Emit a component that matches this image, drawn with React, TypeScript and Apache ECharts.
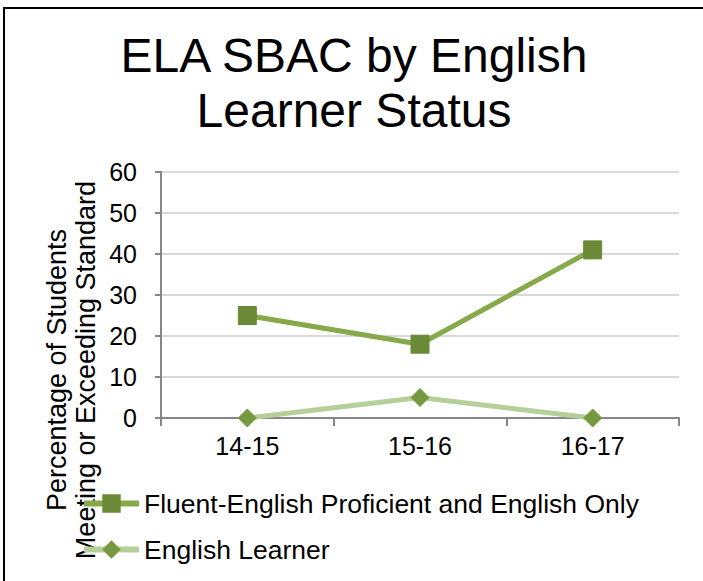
import React, { useEffect, useRef } from "react";
import * as echarts from "echarts";

const categories = ["14-15", "15-16", "16-17"];
const fluentValues = [25, 18, 41];
const learnerValues = [0, 5, 0];
const seriesNames = ["Fluent-English Proficient and English Only", "English Learner"];
const titleLines = ["ELA SBAC by English", "Learner Status"];
const axisTitleLines = ["Percentage of Students", "Meeting or Exceeding Standard"];

const FONT = "'Liberation Sans', Arial, sans-serif";

export default function App() {
  const ref = useRef<HTMLDivElement>(null);
  useEffect(() => {
    if (!ref.current) return;
    const chart = echarts.init(ref.current, null, { renderer: "svg" });
    chart.setOption({
      animation: false,
      backgroundColor: "#ffffff",
      textStyle: { fontFamily: FONT },
      grid: { left: 161, right: 24, top: 172, bottom: 163, containLabel: false },
      graphic: [
        {
          type: "rect",
          shape: { x: 4, y: 8, width: 720, height: 600 },
          style: { fill: "none", stroke: "#000000", lineWidth: 2 },
          silent: true,
        },
        {
          type: "text",
          x: 354,
          y: 83,
          style: {
            text: titleLines.join("\n"),
            font: `48px ${FONT}`,
            lineHeight: 55,
            fill: "#000000",
            align: "center",
            verticalAlign: "middle",
          },
        },
        {
          type: "text",
          x: 71,
          y: 370,
          rotation: Math.PI / 2,
          style: {
            text: axisTitleLines.join("\n"),
            font: `27px ${FONT}`,
            lineHeight: 29,
            fill: "#000000",
            align: "center",
            verticalAlign: "middle",
          },
        },
      ],
      legend: {
        orient: "vertical",
        left: 81,
        top: 490,
        padding: 0,
        itemWidth: 55,
        itemHeight: 23,
        itemGap: 19,
        lineStyle: { width: 6 },
        textStyle: { fontSize: 26.5, color: "#000000", fontFamily: FONT },
        data: seriesNames,
      },
      xAxis: {
        type: "category",
        data: categories,
        boundaryGap: true,
        axisLine: { lineStyle: { color: "#868686", width: 2 } },
        axisTick: { show: true, length: 8, lineStyle: { color: "#868686", width: 2 } },
        axisLabel: { fontSize: 25, color: "#000000", margin: 15, fontFamily: FONT },
        splitLine: { show: false },
      },
      yAxis: {
        type: "value",
        min: 0,
        max: 60,
        interval: 10,
        axisLine: { show: true, lineStyle: { color: "#868686", width: 2 } },
        axisTick: { show: true, length: 6, lineStyle: { color: "#868686", width: 2 } },
        axisLabel: { fontSize: 25, color: "#000000", margin: 24, fontFamily: FONT },
        splitLine: { show: true, lineStyle: { color: "#d9d9d9", width: 2 } },
      },
      series: [
        {
          name: seriesNames[0],
          type: "line",
          data: fluentValues,
          symbol: "rect",
          symbolSize: 18,
          lineStyle: { color: "#86a94a", width: 5 },
          itemStyle: { color: "#6a8a38", borderColor: "#6a8a38" },
          z: 3,
        },
        {
          name: seriesNames[1],
          type: "line",
          data: learnerValues,
          symbol: "diamond",
          symbolSize: 18,
          lineStyle: { color: "#b5cf98", width: 5 },
          itemStyle: { color: "#76983e", borderColor: "#76983e" },
          z: 2,
        },
      ],
    });
    return () => chart.dispose();
  }, []);
  return <div ref={ref} style={{ width: 703, height: 581, position: "absolute", left: 0, top: 0 }} />;
}
